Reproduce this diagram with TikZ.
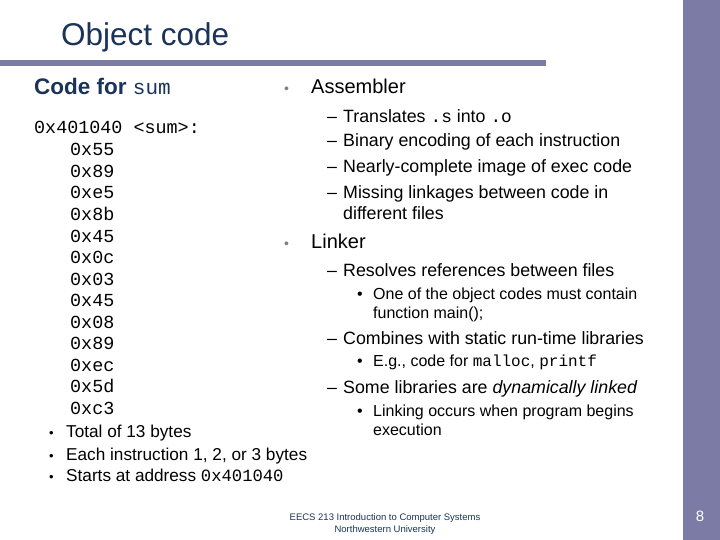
\documentclass[tikz,border=0pt]{standalone}
\usepackage{fontspec}
\setmainfont{Liberation Sans}
\setmonofont{Liberation Mono}
\definecolor{barc}{HTML}{7B7BA5}
\definecolor{navy}{HTML}{1A3358}
\begin{document}
\begin{tikzpicture}[x=1pt,y=-1pt,
  t/.style={anchor=base west,inner sep=0pt,font=\fontsize{17.8}{20}\selectfont},
  ts/.style={anchor=base west,inner sep=0pt,font=\fontsize{16}{19}\selectfont},
  c/.style={anchor=base west,inner sep=0pt,font=\ttfamily\fontsize{18.4}{20}\selectfont}]
\useasboundingbox (0,0) rectangle (720,540);
\fill[barc] (683,0) rectangle (720,540);
\fill[barc] (0,60) rectangle (546,66);
\node[anchor=base west,inner sep=0pt,text=navy,font=\fontsize{31.5}{34}\selectfont] (title) at (61,46) {Object code};
\node[anchor=base west,inner sep=0pt,text=navy,font=\bfseries\fontsize{22.5}{24}\selectfont] (cfs) at (34,95) {Code for \texttt{\mdseries\fontsize{21}{24}\selectfont sum}};
\node[c] (lbl) at (34,134) {0x401040 <sum>:};
\foreach \v [count=\i from 0] in {55,89,e5,8b,45,0c,03,45,08,89,ec,5d,c3}
  \node[c] (b\i) at (70,156+21.5*\i) {0x\v};
\foreach \s/\y [count=\i] in {Total of 13 bytes/437,Each instruction 1{,} 2{,} or 3 bytes/460,Starts at address \texttt{0x401040}/481}{
  \node[t,font=\fontsize{17.2}{19}\selectfont] (lb\i) at (66,\y) {\s};
  \node[t,font=\fontsize{13}{13}\selectfont] (lbb\i) at (49,\y) {•};}
\node[t,text=gray,font=\fontsize{14}{14}\selectfont] (a1) at (284,94) {•};
\node[t,font=\fontsize{20}{22}\selectfont] (asm) at (311,94) {Assembler};
\foreach \s/\y [count=\i] in {Translates \texttt{.s} into \texttt{.o}/123,Binary encoding of each instruction/147,Nearly-complete image of exec code/173,Missing linkages between code in/199}{
  \node[t] (d\i) at (343,\y) {\s};
  \node[t] (dd\i) at (327,\y) {–};}
\node[t] (d5) at (343,220) {different files};
\node[t,text=gray,font=\fontsize{14}{14}\selectfont] (a2) at (284,248) {•};
\node[t,font=\fontsize{20}{22}\selectfont] (lnk) at (311,248) {Linker};
\node[t] (e0) at (327,276) {–};
\node[t] (e1) at (343,276) {Resolves references between files};
\node[ts] (f1) at (373,299) {One of the object codes must contain};
\node[ts] (f1b) at (373,318) {function main();};
\node[ts] (g1) at (357,299) {•};
\node[t] (e4) at (327,344) {–};
\node[t] (e2) at (343,344) {Combines with static run-time libraries};
\node[ts] (f2) at (373,366) {E.g., code for \texttt{malloc}, \texttt{printf}};
\node[ts] (g2) at (357,366) {•};
\node[t] (e5) at (327,393) {–};
\node[t] (e3) at (343,393) {Some libraries are \textit{dynamically linked}};
\node[ts] (f3) at (373,416) {Linking occurs when program begins};
\node[ts] (f3b) at (373,435) {execution};
\node[ts] (g3) at (357,416) {•};
\node[anchor=center,font=\fontsize{9.5}{12}\selectfont,align=center,text=navy] (foot) at (385,524) {EECS 213 Introduction to Computer Systems\\Northwestern University};
\node[text=white,font=\fontsize{15}{15}\selectfont] (pg) at (700,516) {8};
\end{tikzpicture}
\end{document}
